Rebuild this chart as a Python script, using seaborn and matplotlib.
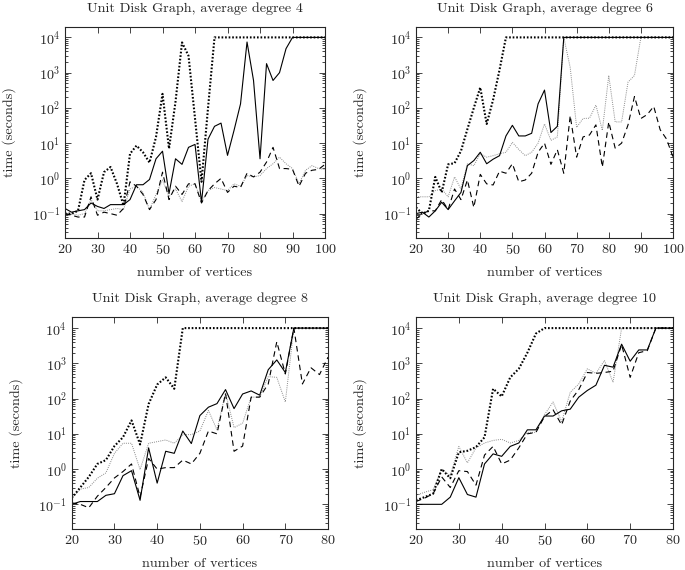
import seaborn as sns
import matplotlib
matplotlib.use('Agg')
import matplotlib.pyplot as plt
from matplotlib.ticker import MultipleLocator, LogLocator, NullLocator, NullFormatter, FixedLocator

# x values (number of vertices)
xs_a = list(range(20, 101, 2))
xs_b = list(range(20, 81, 2))

# average degree 4
solid4 = [0.14, 0.11, 0.12, 0.13, 0.2, 0.16, 0.14, 0.18, 0.18, 0.18, 0.25, 0.66, 0.66, 0.93, 3.6, 5.9,
          0.37, 3.6, 2.5, 7.6, 9.2, 0.21, 13, 30, 37, 4.5, 23, 130, 7400, 600, 3.6, 1800, 600, 1000,
          4800, 10000, 10000, 10000, 10000, 10000, 10000]
dotted4 = [0.1, 0.1, 0.12, 0.9, 1.4, 0.25, 1.5, 2.1, 0.7, 0.17, 5, 8.5, 5.5, 2.8, 15, 250, 7, 150,
           7200, 3000, 50, 0.8, 100] + [10000] * 18
dashed4 = [0.1, 0.09, 0.08, 0.08, 0.3, 0.09, 0.11, 0.1, 0.09, 0.14, 0.8, 0.6, 0.35, 0.13, 0.25, 1.5,
           0.25, 0.6, 0.35, 0.7, 0.7, 0.2, 0.45, 0.7, 1.0, 0.4, 0.6, 0.55, 1.4, 1.1, 1.5, 2.9, 7.6,
           1.9, 1.9, 1.8, 0.6, 1.4, 1.7, 1.8, 2.5]
gray4 = [0.1, 0.1, 0.09, 0.1, 0.25, 0.12, 0.12, 0.13, 0.14, 0.13, 0.5, 0.6, 0.4, 0.13, 0.35, 0.9,
         0.3, 0.5, 0.22, 0.6, 0.7, 0.22, 0.45, 0.55, 0.5, 0.45, 0.7, 0.6, 1.2, 1.1, 1.2, 1.9, 2.6,
         4.0, 2.6, 1.9, 0.7, 1.7, 2.3, 1.9, 1.8]

# average degree 6
solid6 = [0.1, 0.11, 0.08, 0.12, 0.21, 0.13, 0.23, 0.4, 2.3, 3.2, 5.5, 2.6, 3.5, 4.4, 16, 32, 16, 16,
          19, 130, 320, 20, 30] + [10000] * 18
dotted6 = [0.15, 0.1, 0.12, 1.1, 0.4, 2.5, 2.7, 6, 25, 100, 380, 35, 170, 1200] + [10000] * 27
dashed6 = [0.07, 0.1, 0.12, 0.12, 0.25, 0.13, 0.5, 0.25, 0.9, 0.15, 1.3, 0.7, 0.65, 1.6, 1.4, 2.6,
           0.8, 0.9, 1.4, 5.5, 10, 2.5, 6.5, 1.4, 60, 4, 15, 17, 33, 2.1, 40, 7.2, 10, 33, 210, 50,
           65, 110, 24, 13, 4]
gray6 = [0.3, 0.3, 0.3, 0.45, 0.5, 0.3, 1.1, 0.5, 2.6, 2.3, 5.0, 4.0, 4.4, 5.0, 5.5, 10.5, 6.6, 4.4,
         5.5, 10, 35, 12, 15, 10000, 1400, 28, 50, 51, 120, 23, 830, 40, 40, 540, 830] + [10000] * 6

# average degree 8
solid8 = [0.1, 0.12, 0.12, 0.12, 0.18, 0.2, 0.65, 0.9, 0.13, 4, 0.4, 3.2, 2.8, 12, 5.3, 33, 57, 72,
          180, 52, 135, 165, 125, 660, 1250, 550] + [10000] * 5
dotted8 = [0.15, 0.3, 0.6, 1.4, 1.8, 4.5, 8, 24, 5, 70, 250, 400, 190] + [10000] * 18
dashed8 = [0.11, 0.1, 0.08, 0.17, 0.3, 0.56, 0.85, 1.4, 0.16, 2.0, 1.0, 1.1, 1.1, 1.8, 1.4, 2.8, 12,
           10, 140, 3.2, 4.5, 110, 110, 260, 4100, 500, 10000, 260, 750, 480, 1500]
gray8 = [0.15, 0.27, 0.3, 0.55, 0.78, 2.8, 5.4, 5.4, 0.97, 5.4, 6, 6.7, 5.4, 9.5, 9.5, 12, 46, 13,
         145, 15, 20, 110, 110, 420, 400, 80] + [10000] * 5

# average degree 10
solid10 = [0.1, 0.1, 0.1, 0.1, 0.16, 0.57, 0.19, 0.16, 1.4, 2.7, 2.3, 4.4, 5.5, 13, 13, 32, 32, 45,
           50, 110, 170, 240, 880, 780, 3500, 1150, 2400, 2400] + [10000] * 3
dotted10 = [0.13, 0.16, 0.2, 1.0, 0.55, 3.0, 3.3, 4.2, 8, 190, 115, 400, 700, 2000, 7000] + [10000] * 16
dashed10 = [0.12, 0.15, 0.2, 0.6, 0.3, 0.9, 0.85, 0.35, 2.5, 4.4, 1.4, 1.8, 4, 10, 11, 31, 48, 18,
            85, 180, 550, 520, 550, 600, 3400, 400, 2000, 2300] + [10000] * 3
gray10 = [0.18, 0.22, 0.26, 1.0, 0.65, 4.4, 1.5, 4, 5.5, 6.5, 7, 5.5, 6.5, 11, 11, 35, 80, 22, 150,
          260, 700, 520, 1200, 290] + [10000] * 7

y_ticks = [0.1, 1, 10, 100, 1000, 10000]

panels = [
    ('Unit Disk Graph, average degree 4', xs_a, solid4, dashed4, gray4, dotted4, [0.0949, 0.582, 0.3796, 0.371]),
    ('Unit Disk Graph, average degree 6', xs_a, solid6, dashed6, gray6, dotted6, [0.6073, 0.582, 0.3752, 0.371]),
    ('Unit Disk Graph, average degree 8', xs_b, solid8, dashed8, gray8, dotted8, [0.1047, 0.072, 0.3742, 0.371]),
    ('Unit Disk Graph, average degree 10', xs_b, solid10, dashed10, gray10, dotted10, [0.6073, 0.072, 0.3752, 0.371]),
]

sns.set_style('ticks')
plt.rcParams['font.family'] = 'cmr10'
plt.rcParams['mathtext.fontset'] = 'cm'
plt.rcParams['axes.formatter.use_mathtext'] = True
plt.rcParams['font.size'] = 10.2

fig = plt.figure(figsize=(6.85, 5.70), dpi=100)

for title, xs, s, d, g, t, rect in panels:
    ax = fig.add_axes(rect)
    sns.lineplot(x=xs, y=g, ax=ax, color='#8a8a8a', linewidth=0.7, linestyle=(0, (1, 1.2)),
                 estimator=None, errorbar=None)
    sns.lineplot(x=xs, y=d, ax=ax, color='black', linewidth=0.8, linestyle=(0, (5, 3.5)),
                 estimator=None, errorbar=None)
    sns.lineplot(x=xs, y=s, ax=ax, color='black', linewidth=0.8, linestyle='-',
                 estimator=None, errorbar=None)
    sns.lineplot(x=xs, y=t, ax=ax, color='black', linewidth=1.5, linestyle=(0, (0.8, 0.9)),
                 estimator=None, errorbar=None)
    ax.set_yscale('log')
    ax.set_xlim(xs[0], xs[-1])
    ax.set_ylim(0.02, 20000)
    ax.xaxis.set_major_locator(MultipleLocator(10))
    ax.xaxis.set_minor_locator(NullLocator())
    ax.yaxis.set_major_locator(FixedLocator(y_ticks))
    ax.yaxis.set_minor_locator(LogLocator(base=10, subs=range(2, 10), numticks=20))
    ax.yaxis.set_minor_formatter(NullFormatter())
    ax.tick_params(which='both', direction='in', top=True, right=True, width=0.6, labelsize=10.2)
    ax.tick_params(which='major', length=4)
    ax.tick_params(which='minor', length=2.2)
    for sp in ax.spines.values():
        sp.set_linewidth(0.8)
    ax.set_title(title, fontsize=10.2, pad=11)
    ax.set_xlabel('number of vertices', fontsize=10.2, labelpad=7)
    ax.set_ylabel('time (seconds)', fontsize=10.2, labelpad=11)

fig.savefig('out.png', dpi=100)
